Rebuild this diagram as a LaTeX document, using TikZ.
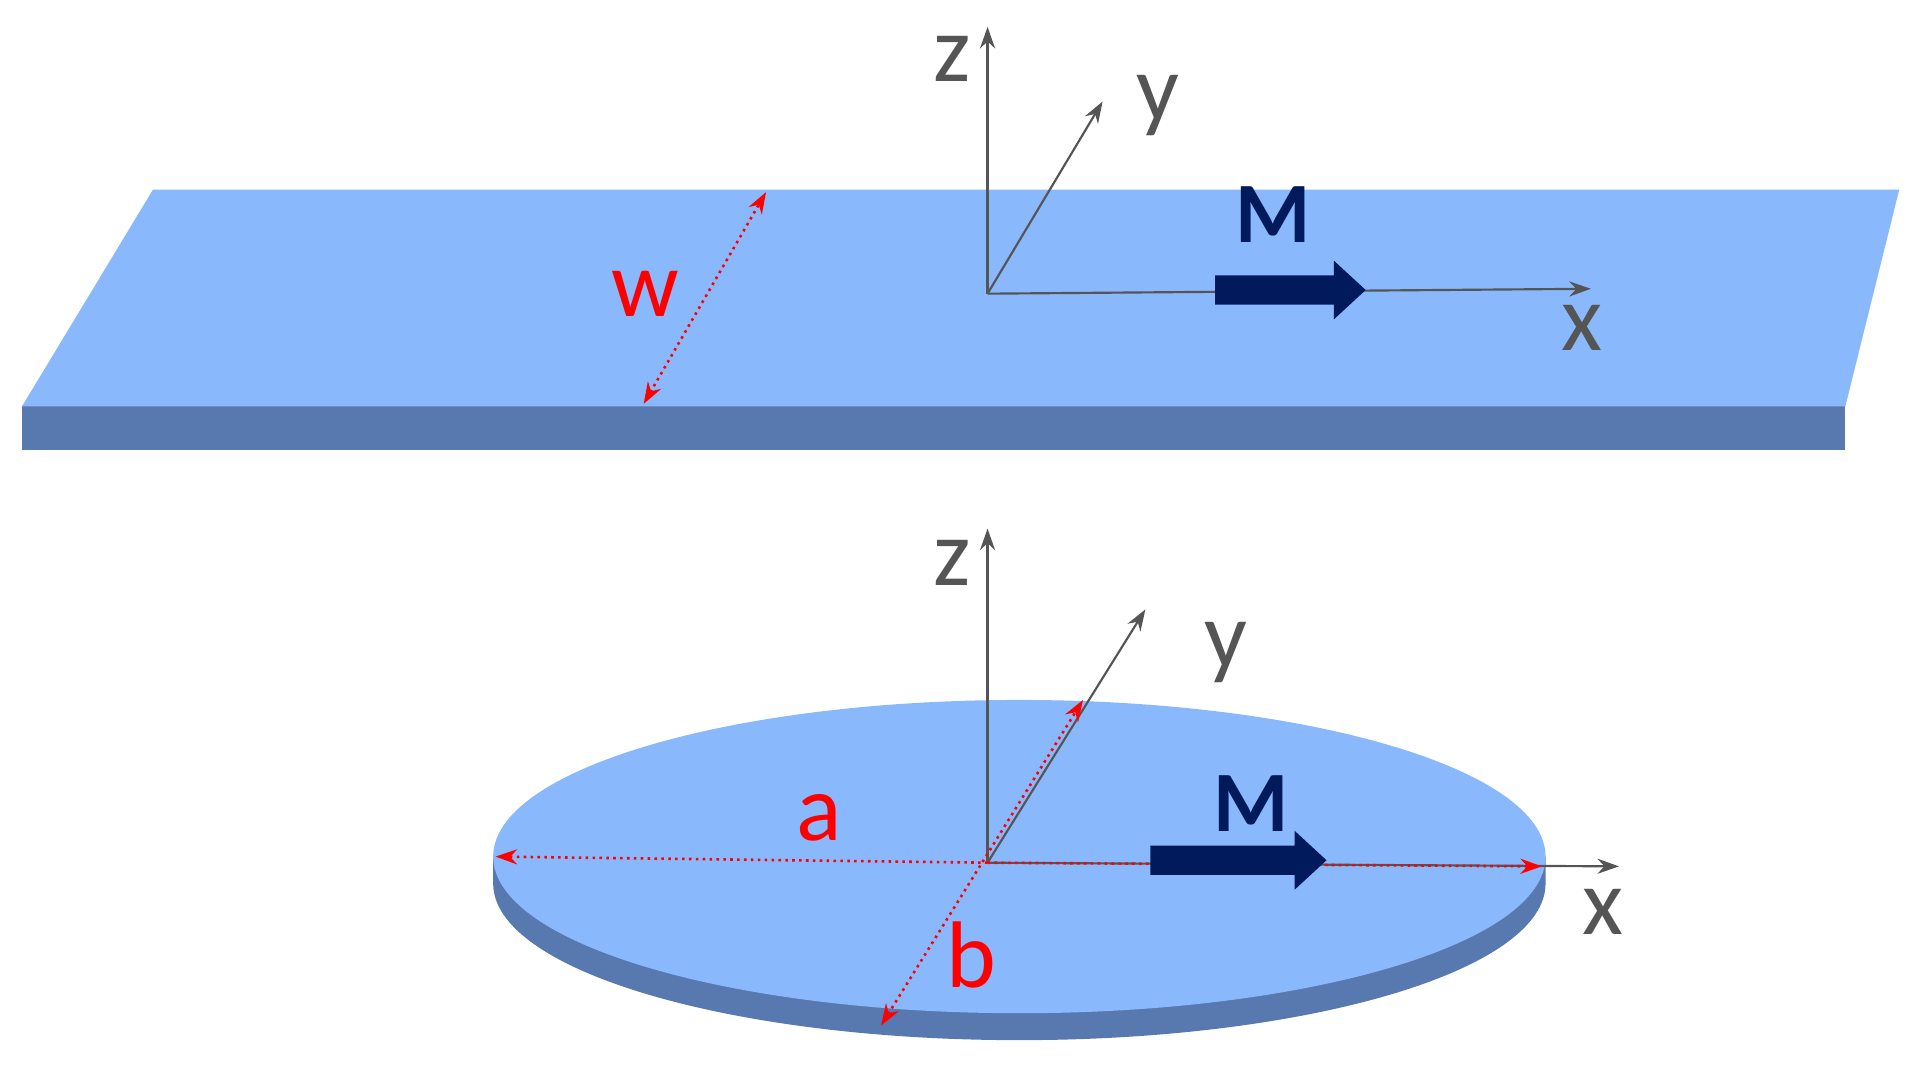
\documentclass[tikz,border=0pt]{standalone}
\usepackage{fontspec}
\setmainfont{Carlito}
\usetikzlibrary{arrows.meta}
\definecolor{topc}{HTML}{8AB8FC}
\definecolor{sidec}{HTML}{5878B0}
\definecolor{navy}{HTML}{001A5C}
\definecolor{axisg}{HTML}{555555}
\begin{document}
\begin{tikzpicture}[x=0.01cm,y=-0.01cm,
  axis/.style={draw=axisg,line width=0.5pt,-{Stealth[length=5pt,width=3.5pt]}},
  lab/.style={text=axisg,font=\fontsize{22}{24}\selectfont,inner sep=0pt},
  dim/.style={draw=red,line width=0.6pt,densely dotted,{Stealth[length=5pt,width=3.5pt]}-{Stealth[length=5pt,width=3.5pt]}},
  dim1/.style={draw=red,line width=0.6pt,densely dotted,-{Stealth[length=5pt,width=3.5pt]}},
  dlab/.style={text=red,font=\fontsize{22}{24}\selectfont,inner sep=0pt},
  mlab/.style={text=navy,font=\bfseries\fontsize{20}{22}\selectfont,inner sep=0pt},
  marrow/.style={fill=navy,draw=none}]
\useasboundingbox (0,0) rectangle (1560,886);
% top slab
\fill[sidec] (18,332) rectangle (1508,368);
\fill[topc] (125,155) -- (1552,155) -- (1508,332) -- (18,332) -- cycle;
\coordinate (w1) at (626,157); \coordinate (w2) at (526,330);
\draw[dim] (w2) -- (w1);
\node[dlab] (wl) at (527,240) {w};
\coordinate (o1) at (807,240);
\coordinate (z1) at (807,22); \coordinate (y1) at (901,83); \coordinate (x1) at (1300,236);
\draw[axis] (o1) -- (z1);
\draw[axis] (o1) -- (y1);
\draw[axis] (o1) -- (x1);
\node[lab] (zl1) at (778,48) {z};
\node[lab] (yl1) at (946,86) {y};
\node[lab] (xl1) at (1293,268) {x};
\fill[marrow] (993,225) -- (1090,225) -- (1090,213) -- (1116,237) -- (1090,261) -- (1090,249) -- (993,249) -- cycle;
\node[mlab] (m1) at (1040,175) {M};
% bottom disk
\fill[sidec] (403,700) -- (403,722) arc[start angle=180,end angle=360,x radius=430,y radius=-128] -- (1263,700) -- cycle;
\fill[topc] (833,700) ellipse [x radius=430,y radius=128];
\coordinate (o2) at (807,705);
\coordinate (z2) at (807,432); \coordinate (y2) at (936,498); \coordinate (x2) at (1323,708);
\draw[axis] (o2) -- (z2);
\draw[axis] (o2) -- (y2);
\draw[axis] (o2) -- (x2);
\node[lab] (zl2) at (778,460) {z};
\node[lab] (yl2) at (1002,533) {y};
\node[lab] (xl2) at (1310,745) {x};
\coordinate (a1) at (405,700); \coordinate (a2) at (1260,708);
\draw[dim1] (o2) -- (a1);
\draw[dim1] (o2) -- (a2);
\coordinate (b1) at (885,572); \coordinate (b2) at (720,838);
\draw[dim] (b2) -- (b1);
\fill[marrow] (940,691) -- (1058,691) -- (1058,679) -- (1084,703) -- (1058,727) -- (1058,715) -- (940,715) -- cycle;
\node[mlab] (m2) at (1022,657) {M};
\node[dlab] (al) at (669,668) {a};
\node[dlab] (bl) at (794,780) {b};
\end{tikzpicture}
\end{document}
